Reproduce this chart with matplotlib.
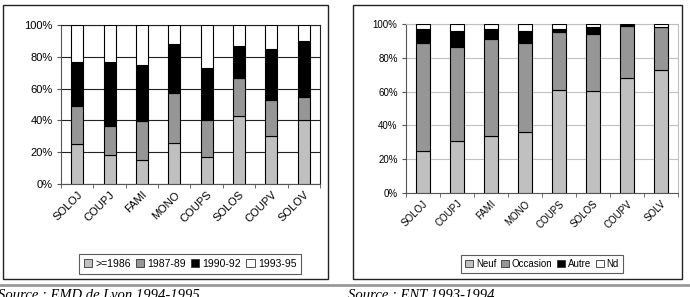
import matplotlib.pyplot as plt
from matplotlib.patches import Rectangle
from matplotlib.lines import Line2D
from matplotlib.ticker import FuncFormatter, FixedLocator, NullFormatter

plt.rcParams['font.family'] = ['Liberation Sans', 'DejaVu Sans']

# left chart: EMD de Lyon
cats_left = ["SOLOJ", "COUPJ", "FAMI", "MONO", "COUPS", "SOLOS", "COUPV", "SOLOV"]
ge1986 = [25, 18, 15, 26, 17, 43, 30, 40]
y8789 = [24, 18.5, 24.5, 31, 23.5, 23.5, 23, 14.5]
y9092 = [27.5, 40.5, 35.5, 31, 32.5, 20.5, 32, 35.5]
y9395 = [23.5, 23, 25, 12, 27, 13, 15, 10]
labels_left = [">=1986", "1987-89", "1990-92", "1993-95"]

# right chart: ENT
cats_right = ["SOLOJ", "COUPJ", "FAMI", "MONO", "COUPS", "SOLOS", "COUPV", "SOLV"]
neuf = [25, 31, 33.5, 36, 61, 60.5, 68, 72.5]
occasion = [63.5, 55.5, 57.5, 52.5, 34.5, 33.5, 31, 25.5]
autre = [8.8, 9.5, 6, 7.2, 1.5, 4, 0.7, 0.4]
nd = [2.7, 4, 3, 4.3, 3, 2, 0.3, 1.6]
labels_right = ["Neuf", "Occasion", "Autre", "Nd"]

colors = ["#c0c0c0", "#969696", "#000000", "#ffffff"]

W, H = 690, 297
fig = plt.figure(figsize=(W / 100, H / 100), dpi=100)


def box(x0, y0, x1, y1):
    # pixel box (top-left origin) -> figure fraction
    return [x0 / W, 1 - y1 / H, (x1 - x0) / W, (y1 - y0) / H]


def stacked(ax, cats, series, labels, width, gridcolor, fs_tick, fs_leg, leg_xy):
    x = list(range(len(cats)))
    bottom = [0] * len(cats)
    handles = []
    for vals, col, lab in zip(series, colors, labels):
        ax.bar(x, vals, width, bottom=bottom, color=col, edgecolor="black",
               linewidth=0.8, zorder=3)
        bottom = [b + v for b, v in zip(bottom, vals)]
        handles.append(Rectangle((0, 0), 1, 1, facecolor=col, edgecolor="#333333", linewidth=0.6))
    ax.set_xlim(-0.5, len(cats) - 0.5)
    ax.set_ylim(0, 100)
    ax.set_yticks([0, 20, 40, 60, 80, 100])
    ax.yaxis.set_major_formatter(FuncFormatter(lambda v, p: "%d%%" % v))
    ax.grid(axis="y", color=gridcolor, linewidth=0.8, zorder=0)
    ax.set_xticks(x)
    ax.set_xticklabels(cats, rotation=45, ha="right", rotation_mode="anchor", fontsize=fs_tick)
    ax.tick_params(axis="x", length=0, pad=4)
    ax.xaxis.set_minor_locator(FixedLocator([i + 0.5 for i in range(-1, len(cats))]))
    ax.xaxis.set_minor_formatter(NullFormatter())
    ax.tick_params(axis="x", which="minor", length=3, color="#555555")
    ax.tick_params(axis="y", length=3, color="#555555", labelsize=fs_tick, pad=3)
    for s in ["left", "bottom"]:
        ax.spines[s].set_color("#555555")
        ax.spines[s].set_linewidth(0.8)
    for s in ["top", "right"]:
        ax.spines[s].set_color(gridcolor)
        ax.spines[s].set_linewidth(0.8)
    leg = ax.legend(handles, labels, loc="center", ncol=4, fontsize=fs_leg,
                    bbox_to_anchor=leg_xy, bbox_transform=fig.transFigure,
                    frameon=True, fancybox=False, handlelength=0.8, handleheight=0.8,
                    handletextpad=0.3, columnspacing=0.5, borderpad=0.45)
    leg.get_frame().set_edgecolor("#333333")
    leg.get_frame().set_linewidth(0.8)


# outer panel frames
for x0, x1 in [(2.5, 328), (352.5, 682)]:
    b = box(x0, 5, x1, 279)
    fig.patches.append(Rectangle((b[0], b[1]), b[2], b[3], transform=fig.transFigure,
                                 facecolor="none", edgecolor="#222222", linewidth=1))

ax1 = fig.add_axes(box(61, 25, 320, 184))
stacked(ax1, cats_left, [ge1986, y8789, y9092, y9395], labels_left, 0.37,
        "#222222", 8, 7.5, (190 / W, 1 - 264 / H))

ax2 = fig.add_axes(box(406, 24, 678, 193))
stacked(ax2, cats_right, [neuf, occasion, autre, nd], labels_right, 0.42,
        "#c0c0c0", 7, 7, (542 / W, 1 - 264 / H))

# separator and sources
fig.lines.append(Line2D([0, 1], [1 - 285 / H, 1 - 285 / H], transform=fig.transFigure,
                        color="#999999", linewidth=2))
fig.text(-2 / W, 1 - 289 / H, "Source : EMD de Lyon 1994-1995", fontsize=10.5,
         family="Liberation Serif", style="italic", va="top", ha="left")
fig.text(348 / W, 1 - 289 / H, "Source : ENT 1993-1994", fontsize=10.5,
         family="Liberation Serif", style="italic", va="top", ha="left")

fig.savefig("out.png", dpi=100)
